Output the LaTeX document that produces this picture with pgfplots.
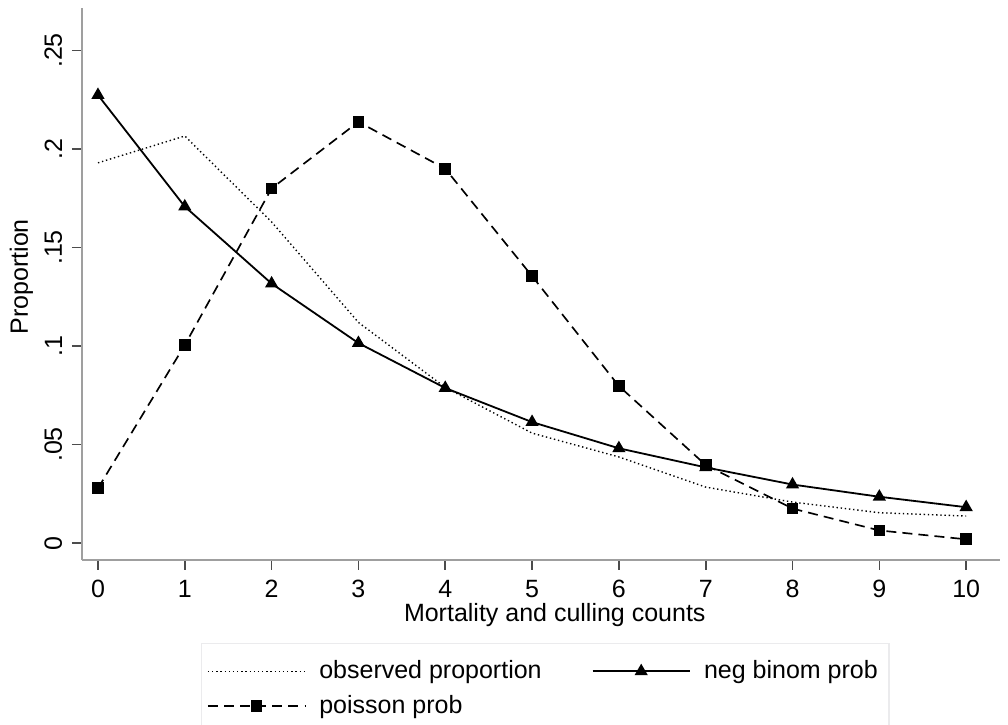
\documentclass[border=0pt]{standalone}
\usepackage{fontspec}
\setmainfont{Liberation Sans}
\usepackage{pgfplots}
\pgfplotsset{compat=1.18}

% 1 px of the reference = 0.36pt
\begin{document}
\begin{tikzpicture}[font=\fontsize{9}{11}\selectfont]
\begin{axis}[
    scale only axis,
    width=330.48pt, height=198.72pt,
    xmin=-0.184, xmax=10.39,
    ymin=-0.0086, ymax=0.2716,
    axis x line*=bottom, axis y line*=left,
    axis line style={gray!75, line width=0.8pt},
    tick style={gray!60!black, line width=0.6pt},
    tick align=outside,
    major tick length=3.6pt,
    xtick={0,1,2,3,4,5,6,7,8,9,10},
    ytick={0,0.05,0.1,0.15,0.2,0.25},
    yticklabels={0,.05,.1,.15,.2,.25},
    yticklabel style={rotate=90, anchor=south},
    /pgf/number format/assume math mode=true,
    xlabel={Mortality and culling counts},
    ylabel={Proportion},
    xlabel style={at={(axis description cs:0.515,-0.1)}, anchor=center},
    ylabel style={at={(axis description cs:-0.066,0.513)}, anchor=center, rotate=0},
    legend columns=2,
    legend cell align=left,
    legend style={
        at={(axis description cs:0.1293,-0.1498)}, anchor=north west,
        draw=blue!4!gray!15, line width=0.6pt,
        inner xsep=2pt, inner ysep=4pt,
        row sep=0.5pt,
        nodes={inner ysep=2pt},
        /tikz/every odd column/.append style={column sep=2.8pt},
        /tikz/every even column/.append style={column sep=16pt},
    },
    legend image code/.code={
        \draw[mark repeat=2, mark phase=2, #1]
            plot coordinates {(0pt,0pt) (17.5pt,0pt) (35pt,0pt)};
    },
]

\addplot[black, line width=0.5pt, dash pattern=on 0.5pt off 1pt] coordinates {
    (0,0.193) (1,0.2066) (2,0.163) (3,0.112) (4,0.079) (5,0.0558)
    (6,0.0437) (7,0.0284) (8,0.0208) (9,0.0154) (10,0.0137)
};
\addlegendentry{observed proportion}

\addplot[black, line width=0.65pt, mark=triangle*, mark size=2.1pt,
         mark options={solid}] coordinates {
    (0,0.2274) (1,0.1708) (2,0.1317) (3,0.1015) (4,0.0787) (5,0.0614)
    (6,0.0481) (7,0.0384) (8,0.0297) (9,0.0235) (10,0.0182)
};
\addlegendentry{neg binom prob\hspace{5pt}}

\addplot[black, line width=0.6pt, dash pattern=on 3.6pt off 2.2pt,
         mark=square*, mark size=1.8pt, mark options={solid}] coordinates {
    (0,0.0278) (1,0.1005) (2,0.1800) (3,0.2138) (4,0.1900) (5,0.1355)
    (6,0.0797) (7,0.0396) (8,0.0175) (9,0.0064) (10,0.0019)
};
\addlegendentry{poisson prob}

\end{axis}
\pgfresetboundingbox
\path[use as bounding box] (-29.52pt,-59.4pt) rectangle (333.36pt,201.6pt);
\end{tikzpicture}
\end{document}
